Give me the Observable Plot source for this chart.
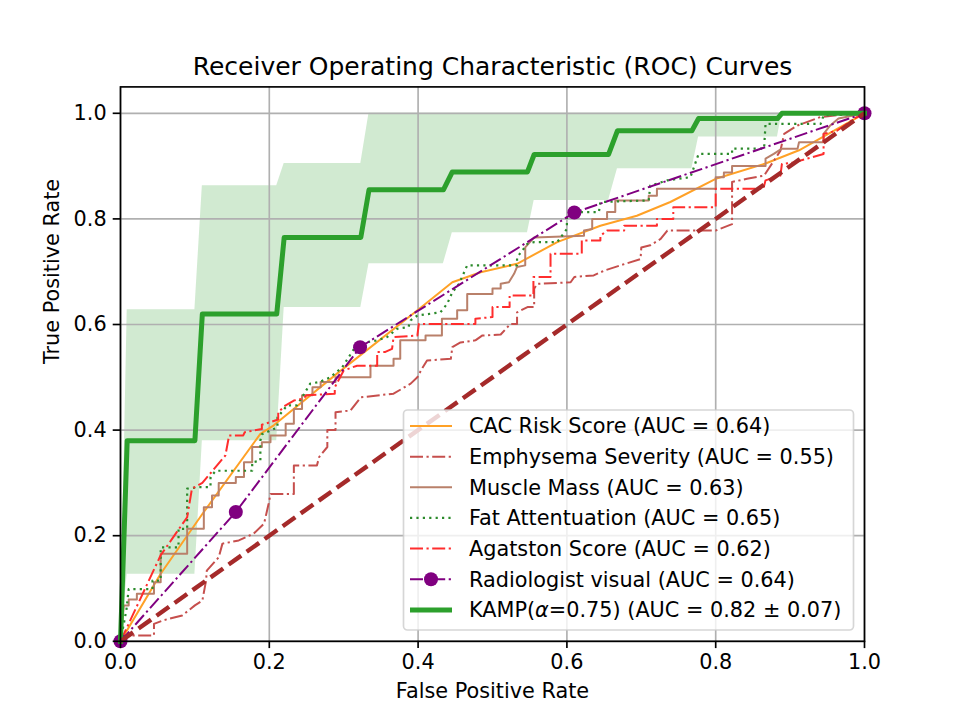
<!DOCTYPE html>
<html>
<head>
<meta charset="utf-8">
<script src="https://cdn.jsdelivr.net/npm/d3@7"></script>
<script src="https://cdn.jsdelivr.net/npm/@observablehq/plot@0.6"></script>
<style>
  html, body { margin: 0; padding: 0; background: #ffffff; }
  #chart { width: 960px; height: 720px; position: relative; }
</style>
</head>
<body>
<div id="chart"></div>
<script>
// ---------- text ----------
const titleText = "Receiver Operating Characteristic (ROC) Curves";
const xLabel = "False Positive Rate";
const yLabel = "True Positive Rate";
const xTicks = [0, 0.2, 0.4, 0.6, 0.8, 1.0];
const yTicks = [0, 0.2, 0.4, 0.6, 0.8, 1.0];
const legendLabels = [
  "CAC Risk Score (AUC = 0.64)",
  "Emphysema Severity (AUC = 0.55)",
  "Muscle Mass (AUC = 0.63)",
  "Fat Attentuation (AUC = 0.65)",
  "Agatston Score (AUC = 0.62)",
  "Radiologist visual (AUC = 0.64)",
  "KAMP(α=0.75) (AUC = 0.82 ± 0.07)"
];

// ---------- data ----------
const cacFpr = [0, 0.054, 0.11, 0.188, 0.206, 0.291, 0.40, 0.446, 0.484, 0.533, 0.587, 0.645, 0.694, 0.739, 0.80, 0.867, 0.912, 0.983, 1];
const cacTpr = [0, 0.128, 0.241, 0.393, 0.409, 0.507, 0.628, 0.68, 0.699, 0.715, 0.756, 0.787, 0.806, 0.832, 0.876, 0.905, 0.93, 0.986, 1];

const emphFpr = [0, 0.002, 0.045, 0.045, 0.058, 0.083, 0.10, 0.11, 0.115, 0.116, 0.132, 0.137, 0.159, 0.179, 0.193, 0.199, 0.2016, 0.233, 0.233, 0.264, 0.267, 0.278, 0.278, 0.289, 0.289, 0.309, 0.323, 0.367, 0.39, 0.399, 0.405, 0.412, 0.444, 0.446, 0.457, 0.477, 0.486, 0.511, 0.524, 0.533, 0.533, 0.547, 0.556, 0.556, 0.56, 0.605, 0.61, 0.636, 0.65, 0.672, 0.699, 0.70, 0.712, 0.726, 0.735, 0.80, 0.822, 0.822, 0.842, 0.865, 0.887, 0.892, 0.91, 0.941, 0.968, 1];
const emphTpr = [0, 0.011, 0.011, 0.033, 0.04, 0.049, 0.068, 0.077, 0.115, 0.134, 0.159, 0.185, 0.191, 0.204, 0.223, 0.26, 0.279, 0.279, 0.333, 0.333, 0.349, 0.368, 0.40, 0.40, 0.434, 0.437, 0.462, 0.469, 0.488, 0.50, 0.516, 0.532, 0.535, 0.557, 0.566, 0.57, 0.579, 0.581, 0.601, 0.601, 0.623, 0.633, 0.633, 0.668, 0.677, 0.68, 0.69, 0.693, 0.702, 0.712, 0.724, 0.746, 0.75, 0.762, 0.778, 0.778, 0.79, 0.87, 0.876, 0.882, 0.929, 0.961, 0.977, 0.993, 0.997, 1];

const muscleFpr = [0, 0.0045, 0.011, 0.011, 0.022, 0.022, 0.045, 0.045, 0.054, 0.054, 0.0896, 0.0896, 0.112, 0.112, 0.123, 0.123, 0.132, 0.132, 0.155, 0.155, 0.166, 0.166, 0.177, 0.177, 0.19, 0.19, 0.2016, 0.2016, 0.222, 0.222, 0.233, 0.233, 0.244, 0.244, 0.258, 0.258, 0.269, 0.269, 0.289, 0.289, 0.336, 0.336, 0.367, 0.367, 0.376, 0.376, 0.41, 0.41, 0.432, 0.432, 0.4525, 0.4525, 0.466, 0.466, 0.50, 0.50, 0.511, 0.511, 0.522, 0.529, 0.533, 0.544, 0.544, 0.556, 0.623, 0.623, 0.634, 0.634, 0.654, 0.654, 0.665, 0.665, 0.71, 0.71, 0.721, 0.721, 0.80, 0.80, 0.811, 0.811, 0.822, 0.822, 0.867, 0.867, 0.878, 0.889, 0.91, 0.912, 0.945, 0.945, 0.954, 0.965, 1];
const muscleTpr = [0, 0.068, 0.068, 0.079, 0.079, 0.09, 0.09, 0.112, 0.112, 0.166, 0.166, 0.213, 0.213, 0.254, 0.254, 0.276, 0.276, 0.30, 0.30, 0.311, 0.311, 0.339, 0.339, 0.368, 0.368, 0.377, 0.377, 0.39, 0.39, 0.412, 0.412, 0.44, 0.44, 0.466, 0.466, 0.481, 0.481, 0.491, 0.491, 0.50, 0.50, 0.522, 0.522, 0.535, 0.535, 0.57, 0.57, 0.579, 0.579, 0.611, 0.611, 0.627, 0.627, 0.658, 0.658, 0.668, 0.668, 0.677, 0.68, 0.696, 0.709, 0.712, 0.746, 0.765, 0.768, 0.778, 0.781, 0.80, 0.80, 0.813, 0.813, 0.835, 0.835, 0.844, 0.844, 0.857, 0.857, 0.879, 0.879, 0.888, 0.888, 0.90, 0.90, 0.914, 0.923, 0.933, 0.933, 0.945, 0.945, 0.961, 0.977, 0.99, 1];

const fatFpr = [0, 0.008, 0.011, 0.043, 0.043, 0.054, 0.054, 0.078, 0.078, 0.0896, 0.0896, 0.105, 0.121, 0.121, 0.128, 0.177, 0.177, 0.188, 0.188, 0.19, 0.211, 0.211, 0.224, 0.237, 0.244, 0.255, 0.267, 0.282, 0.298, 0.314, 0.318, 0.345, 0.358, 0.372, 0.387, 0.39, 0.399, 0.43, 0.439, 0.446, 0.455, 0.466, 0.533, 0.533, 0.547, 0.556, 0.587, 0.60, 0.60, 0.618, 0.643, 0.645, 0.71, 0.712, 0.735, 0.766, 0.777, 0.822, 0.822, 0.865, 0.867, 0.941, 0.945, 1];
const fatTpr = [0, 0.06, 0.099, 0.099, 0.115, 0.115, 0.178, 0.178, 0.213, 0.213, 0.289, 0.292, 0.292, 0.311, 0.323, 0.323, 0.339, 0.342, 0.38, 0.392, 0.405, 0.424, 0.447, 0.447, 0.462, 0.488, 0.491, 0.50, 0.519, 0.554, 0.563, 0.57, 0.576, 0.592, 0.595, 0.608, 0.617, 0.623, 0.639, 0.661, 0.677, 0.712, 0.712, 0.727, 0.753, 0.756, 0.756, 0.781, 0.81, 0.813, 0.813, 0.832, 0.835, 0.863, 0.873, 0.879, 0.923, 0.923, 0.933, 0.933, 0.98, 0.98, 0.996, 1];

const agatFpr = [0, 0.054, 0.0896, 0.096, 0.11, 0.141, 0.146, 0.165, 0.167, 0.19, 0.19, 0.212, 0.212, 0.222, 0.233, 0.246, 0.25, 0.288, 0.288, 0.30, 0.318, 0.345, 0.345, 0.356, 0.365, 0.367, 0.399, 0.401, 0.477, 0.477, 0.50, 0.50, 0.523, 0.523, 0.555, 0.555, 0.578, 0.578, 0.62, 0.62, 0.645, 0.645, 0.654, 0.677, 0.677, 0.721, 0.721, 0.743, 0.743, 0.80, 0.80, 0.864, 0.867, 0.887, 0.889, 0.905, 0.945, 0.945, 0.963, 0.986, 1];
const agatTpr = [0, 0.163, 0.235, 0.289, 0.30, 0.352, 0.39, 0.39, 0.396, 0.402, 0.41, 0.42, 0.434, 0.447, 0.456, 0.46, 0.466, 0.469, 0.481, 0.513, 0.522, 0.522, 0.548, 0.548, 0.554, 0.576, 0.579, 0.601, 0.601, 0.611, 0.614, 0.633, 0.633, 0.655, 0.655, 0.69, 0.69, 0.734, 0.734, 0.759, 0.759, 0.768, 0.778, 0.778, 0.787, 0.787, 0.80, 0.80, 0.822, 0.822, 0.857, 0.857, 0.873, 0.882, 0.904, 0.907, 0.923, 0.961, 0.967, 0.99, 1];

const radFpr = [0, 0.155, 0.322, 0.61, 1];
const radTpr = [0, 0.245, 0.557, 0.812, 1];

const kampFpr = [0, 0.009, 0.10, 0.11, 0.21, 0.22, 0.323, 0.334, 0.434, 0.446, 0.547, 0.556, 0.656, 0.668, 0.768, 0.777, 0.883, 0.889, 1];
const kampTpr = [0, 0.38, 0.38, 0.62, 0.62, 0.765, 0.765, 0.855, 0.855, 0.889, 0.889, 0.922, 0.922, 0.967, 0.967, 0.99, 0.99, 1, 1];

const bandFpr = [0, 0.009, 0.10, 0.11, 0.21, 0.22, 0.323, 0.334, 0.434, 0.446, 0.547, 0.556, 0.656, 0.668, 0.768, 0.777, 0.883, 0.889, 1];
const bandLower = [0, 0.127, 0.127, 0.38, 0.38, 0.632, 0.632, 0.715, 0.715, 0.774, 0.774, 0.835, 0.835, 0.895, 0.895, 0.955, 0.955, 1, 1];
const bandUpper = [0, 0.628, 0.628, 0.863, 0.863, 0.905, 0.905, 1, 1, 1, 1, 1, 1, 1, 1, 1, 1, 1, 1];

const chanceFpr = [0, 1];
const chanceTpr = [0, 1];

// ---------- build tables ----------
const rows = (fx, ty) => fx.map((x, i) => ({fpr: x, tpr: ty[i]}));
const band = bandFpr.map((x, i) => ({fpr: x, lo: bandLower[i], hi: bandUpper[i]}));

const styles = [
  {data: rows(cacFpr, cacTpr), stroke: "#ffa126", width: 2, dash: null},
  {data: rows(emphFpr, emphTpr), stroke: "#c64f4d", width: 2, dash: "13,3.5,2.2,3.5"},
  {data: rows(muscleFpr, muscleTpr), stroke: "#b9806a", width: 2, dash: null},
  {data: rows(fatFpr, fatTpr), stroke: "#2b8a2b", width: 2.2, dash: "2.2,4.2"},
  {data: rows(agatFpr, agatTpr), stroke: "#ff2d2d", width: 2, dash: "13,3.5,2.2,3.5"},
  {data: rows(radFpr, radTpr), stroke: "#800080", width: 2, dash: "13,3.5,2.2,3.5", marker: true},
  {data: rows(kampFpr, kampTpr), stroke: "#2ca02c", width: 5, dash: null}
];

const W = 960, H = 720;
const mL = 120, mR = 96, mT = 86.4, mB = 79.2;
const fontFam = "DejaVu Sans, Liberation Sans, sans-serif";
const markerR = 7;

const marks = [
  Plot.areaY(band, {x: "fpr", y1: "lo", y2: "hi", fill: "#2ca02c", fillOpacity: 0.22, curve: "linear"}),
  Plot.gridX({ticks: xTicks, stroke: "#b0b0b0", strokeOpacity: 1, strokeWidth: 1.67}),
  Plot.gridY({ticks: yTicks, stroke: "#b0b0b0", strokeOpacity: 1, strokeWidth: 1.67})
];
styles.forEach(s => {
  marks.push(Plot.line(s.data, {
    x: "fpr", y: "tpr", stroke: s.stroke, strokeWidth: s.width,
    strokeDasharray: s.dash || undefined,
    strokeLinecap: s.dash ? "butt" : "square", strokeLinejoin: "round", curve: "linear"
  }));
  if (s.marker) marks.push(Plot.dot(s.data, {x: "fpr", y: "tpr", r: markerR, fill: s.stroke, stroke: "none"}));
});
marks.push(Plot.line(rows(chanceFpr, chanceTpr), {x: "fpr", y: "tpr", stroke: "#a52a2a", strokeWidth: 4.4, strokeDasharray: "15.4,6.7", strokeLinecap: "butt"}));
marks.push(
  Plot.frame({stroke: "black", strokeWidth: 1.67}),
  Plot.axisX({ticks: xTicks, tickFormat: d3.format(".1f"), tickSize: 7.3, tickPadding: 6, strokeWidth: 1.67, label: null, fontSize: 20.8}),
  Plot.axisY({ticks: yTicks, tickFormat: d3.format(".1f"), tickSize: 7.3, tickPadding: 6.5, strokeWidth: 1.67, label: null, fontSize: 20.8}),
  Plot.text([titleText], {frameAnchor: "top", lineAnchor: "middle", dy: -20, fontSize: 25, fill: "black"}),
  Plot.text([xLabel], {frameAnchor: "bottom", lineAnchor: "middle", dy: 50, fontSize: 20.8, fill: "black"}),
  Plot.text([yLabel], {frameAnchor: "left", lineAnchor: "middle", dx: -68, rotate: -90, fontSize: 20.8, fill: "black"})
);

const chart = Plot.plot({
  width: W, height: H,
  marginLeft: mL, marginRight: mR, marginTop: mT, marginBottom: mB,
  x: {domain: [0, 1]},
  y: {domain: [0, 1.05]},
  style: {fontFamily: fontFam, fontSize: "20.8px", background: "white", color: "black", overflow: "visible"},
  marks
});
document.getElementById("chart").appendChild(chart);

// ---------- legend (inside the axes, lower right) ----------
const svg = d3.select(chart);
const lg = svg.append("g").attr("font-family", fontFam).attr("font-size", 20.8).attr("text-anchor", "start");
const boxX = 403.5, boxY = 410, boxW = 450, boxH = 220;
lg.append("rect").attr("x", boxX).attr("y", boxY).attr("width", boxW).attr("height", boxH)
  .attr("rx", 4).attr("fill", "white").attr("fill-opacity", 0.8)
  .attr("stroke", "#cccccc").attr("stroke-opacity", 0.8).attr("stroke-width", 1.67);
const row0 = 426, rowStep = 30.65, hx0 = 410, hx1 = 452, tx = 469;
legendLabels.forEach((lab, i) => {
  const s = styles[i];
  const cy = row0 + i * rowStep;
  lg.append("line").attr("x1", hx0).attr("x2", hx1).attr("y1", cy).attr("y2", cy)
    .attr("stroke", s.stroke).attr("stroke-width", s.width)
    .attr("stroke-dasharray", s.dash || null).attr("stroke-linecap", "butt");
  if (s.marker) lg.append("circle").attr("cx", (hx0 + hx1) / 2).attr("cy", cy).attr("r", markerR).attr("fill", s.stroke);
  const t = lg.append("text").attr("x", tx).attr("y", cy).attr("dy", "0.36em")
    .attr("text-anchor", "start").attr("fill", "black");
  const k = lab.indexOf("α");
  if (k >= 0) {
    t.append("tspan").text(lab.slice(0, k));
    t.append("tspan").attr("font-style", "italic").text("α");
    t.append("tspan").text(lab.slice(k + 1));
  } else {
    t.text(lab);
  }
});
</script>
</body>
</html>
